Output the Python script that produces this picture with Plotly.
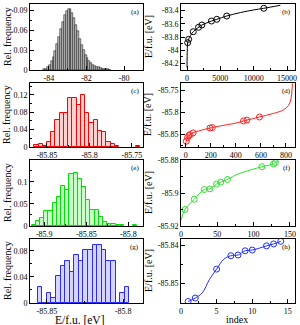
import plotly.graph_objects as go

# ---------------- data ----------------
# (a) histogram
a_centers = [-84.25, -84.15, -84.05, -83.95, -83.85, -83.75, -83.65, -83.55, -83.45, -83.35,
             -83.25, -83.15, -83.05, -82.95, -82.85, -82.75, -82.65, -82.55, -82.45, -82.35,
             -82.25, -82.15, -82.05, -81.95, -81.85, -81.75, -81.65, -81.55, -81.45, -81.35,
             -81.25, -81.15, -81.05, -80.95, -80.85, -80.75]
a_freq = [0.001, 0.002, 0.004, 0.008, 0.013, 0.02, 0.029, 0.039, 0.05, 0.061,
          0.072, 0.082, 0.089, 0.092, 0.091, 0.086, 0.078, 0.068, 0.058, 0.047,
          0.038, 0.03, 0.023, 0.018, 0.014, 0.011, 0.008, 0.006, 0.005, 0.004,
          0.003, 0.002, 0.0015, 0.001, 0.0008, 0.0005]
a_width = 0.1

# (b) line + circles
b_line_x = [0, 20, 50, 100, 250, 500, 940, 1500, 2230, 3000, 3670, 4470, 5960, 8000, 10000, 11520, 14000]
b_line_y = [-84.26, -84.1, -83.97, -83.89, -83.835, -83.78, -83.72, -83.67, -83.618, -83.585,
            -83.558, -83.532, -83.482, -83.43, -83.39, -83.365, -83.32]
b_pts_x = [100, 250, 940, 1730, 2230, 3670, 4470, 5960, 11520]
b_pts_y = [-83.886, -83.835, -83.72, -83.653, -83.618, -83.558, -83.532, -83.482, -83.365]

# (c) histogram
c_centers = [-85.8625, -85.8575, -85.8525, -85.8475, -85.8425, -85.8375, -85.8325, -85.8275,
             -85.8225, -85.8175, -85.8125, -85.8075, -85.8025, -85.7975, -85.7925, -85.7875,
             -85.7825, -85.7775, -85.7725, -85.7675, -85.7425]
c_freq = [0.005, 0.006, 0.003, 0.011, 0.035, 0.062, 0.077, 0.077, 0.112, 0.112, 0.097, 0.12,
          0.078, 0.055, 0.062, 0.036, 0.035, 0.012, 0.006, 0.002, 0.003]
c_width = 0.005

# (d) line + circles
d_line_x = [0, 5, 15, 25, 35, 60, 100, 194, 213, 300, 400, 461, 488, 589, 700, 780, 820, 840, 848, 852]
d_line_y = [-85.872, -85.866, -85.858, -85.853, -85.851, -85.847, -85.843, -85.836, -85.835,
            -85.83, -85.825, -85.82, -85.818, -85.811, -85.803, -85.795, -85.785, -85.77, -85.75, -85.735]
d_pts_x = [5, 15, 25, 35, 60, 194, 213, 461, 488, 589]
d_pts_y = [-85.866, -85.858, -85.853, -85.851, -85.847, -85.836, -85.835, -85.82, -85.818, -85.811]

# (e) histogram
e_centers = [-85.9125, -85.9075, -85.9025, -85.8975, -85.8925, -85.8875, -85.8825, -85.8775,
             -85.8725, -85.8675, -85.8625, -85.8575, -85.8525, -85.8475, -85.8425, -85.8375,
             -85.8325, -85.8275, -85.8225, -85.8175, -85.8125, -85.8075, -85.7925]
e_freq = [0.003, 0.011, 0.019, 0.034, 0.034, 0.051, 0.066, 0.09, 0.081, 0.117, 0.119, 0.105,
          0.089, 0.058, 0.037, 0.037, 0.02, 0.01, 0.004, 0.004, 0.003, 0.0015, 0.002]
e_width = 0.005

# (f) line + circles
f_line_x = [0, 5.5, 18.3, 32, 39.7, 48.9, 54.8, 64, 78.5, 111.4, 127.4, 130, 135]
f_line_y = [-85.9166, -85.910, -85.9038, -85.8979, -85.8975, -85.8946, -85.8934, -85.8918,
            -85.8885, -85.8841, -85.8824, -85.8816, -85.8808]
f_pts_x = [5.5, 18.3, 32, 39.7, 48.9, 54.8, 64, 111.4, 127.4, 130]
f_pts_y = [-85.910, -85.9038, -85.8979, -85.8975, -85.8946, -85.8934, -85.8918, -85.8841, -85.8824, -85.8816]

# (g) histogram
g_centers = [-85.8545, -85.8515, -85.8485, -85.8455, -85.8425, -85.8395, -85.8365, -85.8335,
             -85.8305, -85.8275, -85.8245, -85.8215, -85.8185, -85.8155, -85.8125, -85.8095,
             -85.8065, -85.8035, -85.8005, -85.7975]
g_freq = [0.024, 0.0, 0.016, 0.008, 0.041, 0.057, 0.065, 0.048, 0.074, 0.065, 0.081, 0.081,
          0.089, 0.089, 0.081, 0.065, 0.065, 0.0, 0.016, 0.024]
g_width = 0.003

# (h) line + circles
h_line_x = [1, 2, 3, 4, 5, 6, 7, 8, 9, 10, 11, 12, 13, 14]
h_line_y = [-85.8548, -85.8539, -85.8525, -85.8490, -85.8463, -85.8437, -85.8428, -85.8426,
            -85.8415, -85.8413, -85.8408, -85.8402, -85.8397, -85.8390]
h_pts_x = [1, 2, 5, 7, 8, 9, 10, 12, 13, 14]
h_pts_y = [-85.8548, -85.8539, -85.8463, -85.8428, -85.8426, -85.8415, -85.8413, -85.8402, -85.8397, -85.8390]

# tick labels
a_xt = [-84, -82, -80]; a_xl = ["-84", "-82", "-80"]
a_yt = [0, 0.03, 0.06, 0.09]; a_yl = ["0", "0.03", "0.06", "0.09"]
b_xt = [0, 5000, 10000, 15000]; b_xl = ["0", "5000", "10000", "15000"]
b_yt = [-84.2, -84, -83.8, -83.6, -83.4]; b_yl = ["-84.2", "-84", "-83.8", "-83.6", "-83.4"]
c_xt = [-85.85, -85.8, -85.75]; c_xl = ["-85.85", "-85.8", "-85.75"]
c_yt = [0, 0.04, 0.08, 0.12]; c_yl = ["0", "0.04", "0.08", "0.12"]
d_xt = [0, 200, 400, 600, 800]; d_xl = ["0", "200", "400", "600", "800"]
d_yt = [-85.85, -85.8, -85.75]; d_yl = ["-85.85", "-85.8", "-85.75"]
e_xt = [-85.9, -85.85, -85.8]; e_xl = ["-85.9", "-85.85", "-85.8"]
e_yt = [0, 0.05, 0.1]; e_yl = ["0", "0.05", "0.1"]
f_xt = [0, 50, 100, 150]; f_xl = ["0", "50", "100", "150"]
f_yt = [-85.92, -85.9, -85.88]; f_yl = ["-85.92", "-85.9", "-85.88"]
g_xt = [-85.85, -85.8]; g_xl = ["-85.85", "-85.8"]
g_yt = [0, 0.04, 0.08]; g_yl = ["0", "0.04", "0.08"]
h_xt = [0, 5, 10, 15]; h_xl = ["0", "5", "10", "15"]
h_yt = [-85.85, -85.84]; h_yl = ["-85.85", "-85.84"]

panel_labels = ["(a)", "(b)", "(c)", "(d)", "(e)", "(f)", "(g)", "(h)"]

# ---------------- layout helpers ----------------
W, H = 300, 325
FONT = "Liberation Serif"

def xdom(x0, x1):
    return [x0 / W, x1 / W]

def ydom(y0, y1):
    return [1 - y1 / H, 1 - y0 / H]

LEFT = xdom(30, 143)
RIGHT = xdom(181, 295)
ROWS = [ydom(4, 70), ydom(83, 147), ydom(160, 226), ydom(239, 303)]

def axis(domain, rng, tv, tt, minor_dtick, anchor):
    return dict(domain=domain, range=rng, tickmode="array", tickvals=tv, ticktext=tt,
                ticks="inside", ticklen=4, tickwidth=1, tickcolor="black",
                showline=True, linecolor="black", linewidth=1, mirror=True,
                showgrid=False, zeroline=False, anchor=anchor, automargin=False,
                tickfont=dict(family=FONT, size=8, color="black"),
                minor=dict(ticks="inside", ticklen=2, tickwidth=1, tickcolor="black",
                           dtick=minor_dtick, tick0=0, showgrid=False))

fig = go.Figure()

hist_specs = [
    (a_centers, a_freq, a_width, "#c0c0c0", "black", 0.5),
    (c_centers, c_freq, c_width, "#ffd0d0", "#ff0000", 1),
    (e_centers, e_freq, e_width, "#c8ffc8", "#00e000", 1),
    (g_centers, g_freq, g_width, "#d4d4ff", "#2a2aff", 1),
]
line_specs = [
    (b_line_x, b_line_y, b_pts_x, b_pts_y, "black"),
    (d_line_x, d_line_y, d_pts_x, d_pts_y, "#ff2020"),
    (f_line_x, f_line_y, f_pts_x, f_pts_y, "#30e030"),
    (h_line_x, h_line_y, h_pts_x, h_pts_y, "#2030ff"),
]

for i, (cx, fy, wd, fill, edge, lw) in enumerate(hist_specs):
    n = 2 * i + 1
    fig.add_trace(go.Bar(x=cx, y=fy, width=wd, marker=dict(color=fill, line=dict(color=edge, width=lw)),
                         xaxis=f"x{n}", yaxis=f"y{n}", showlegend=False))

for i, (lx, ly, px, py, col) in enumerate(line_specs):
    n = 2 * i + 2
    fig.add_trace(go.Scatter(x=lx, y=ly, mode="lines", line=dict(color=col, width=1, shape="spline"),
                             xaxis=f"x{n}", yaxis=f"y{n}", showlegend=False))
    fig.add_trace(go.Scatter(x=px, y=py, mode="markers",
                             marker=dict(symbol="circle-open", size=6, color=col, line=dict(width=1, color=col)),
                             xaxis=f"x{n}", yaxis=f"y{n}", showlegend=False))

ax_specs = [
    (LEFT, ROWS[0], [-85, -79], a_xt, a_xl, 1, [0, 0.099], a_yt, a_yl, 0.015),
    (RIGHT, ROWS[0], [-900, 16200], b_xt, b_xl, 2500, [-84.3, -83.3], b_yt, b_yl, 0.1),
    (LEFT, ROWS[1], [-85.87, -85.737], c_xt, c_xl, 0.025, [0, 0.147], c_yt, c_yl, 0.02),
    (RIGHT, ROWS[1], [-37, 872], d_xt, d_xl, 100, [-85.879, -85.734], d_yt, d_yl, 0.025),
    (LEFT, ROWS[2], [-85.917, -85.7825], e_xt, e_xl, 0.025, [0, 0.149], e_yt, e_yl, 0.025),
    (RIGHT, ROWS[2], [0, 157], f_xt, f_xl, 25, [-85.92, -85.88], f_yt, f_yl, 0.01),
    (LEFT, ROWS[3], [-85.861, -85.787], g_xt, g_xl, 0.025, [0, 0.098], g_yt, g_yl, 0.02),
    (RIGHT, ROWS[3], [0, 16], h_xt, h_xl, 2.5, [-85.8552, -85.8384], h_yt, h_yl, 0.005),
]

lay = {}
annotations = []
for i, (xd, yd, xr, xt, xl, xm, yr, yt, yl, ym) in enumerate(ax_specs):
    n = i + 1
    lay[f"xaxis{n}"] = axis(xd, xr, xt, xl, xm, f"y{n}")
    lay[f"yaxis{n}"] = axis(yd, yr, yt, yl, ym, f"x{n}")
    annotations.append(dict(text=panel_labels[i], xref="paper", yref="paper",
                            x=xd[1] - 2 / W, y=yd[1] - 2 / H, xanchor="right", yanchor="top",
                            showarrow=False, font=dict(family=FONT, size=7, color="black")))
    if i % 2 == 0:
        annotations.append(dict(text="Rel. frequency", xref="paper", yref="paper",
                                x=7 / W, y=(yd[0] + yd[1]) / 2, textangle=-90,
                                xanchor="center", yanchor="middle",
                                showarrow=False, font=dict(family=FONT, size=10, color="black")))
    else:
        annotations.append(dict(text="E/f.u. [eV]", xref="paper", yref="paper",
                                x=148 / W, y=(yd[0] + yd[1]) / 2, textangle=-90,
                                xanchor="center", yanchor="middle",
                                showarrow=False, font=dict(family=FONT, size=10, color="black")))

annotations.append(dict(text="E/f.u. [eV]", xref="paper", yref="paper",
                        x=80 / W, y=1 - 319.5 / H, xanchor="center", yanchor="middle", showarrow=False,
                        font=dict(family=FONT, size=11.5, color="black")))
annotations.append(dict(text="index", xref="paper", yref="paper",
                        x=237 / W, y=1 - 319.5 / H, xanchor="center", yanchor="middle", showarrow=False,
                        font=dict(family=FONT, size=10, color="black")))

fig.update_layout(width=W, height=H, margin=dict(l=0, r=0, t=0, b=0, autoexpand=False),
                  paper_bgcolor="white", plot_bgcolor="white", bargap=0,
                  annotations=annotations, **lay)

fig.write_html("out.html", config={"displayModeBar": False},
               post_script="document.body.style.margin='0';document.body.style.padding='0';"
                           "document.body.style.overflow='hidden';")
